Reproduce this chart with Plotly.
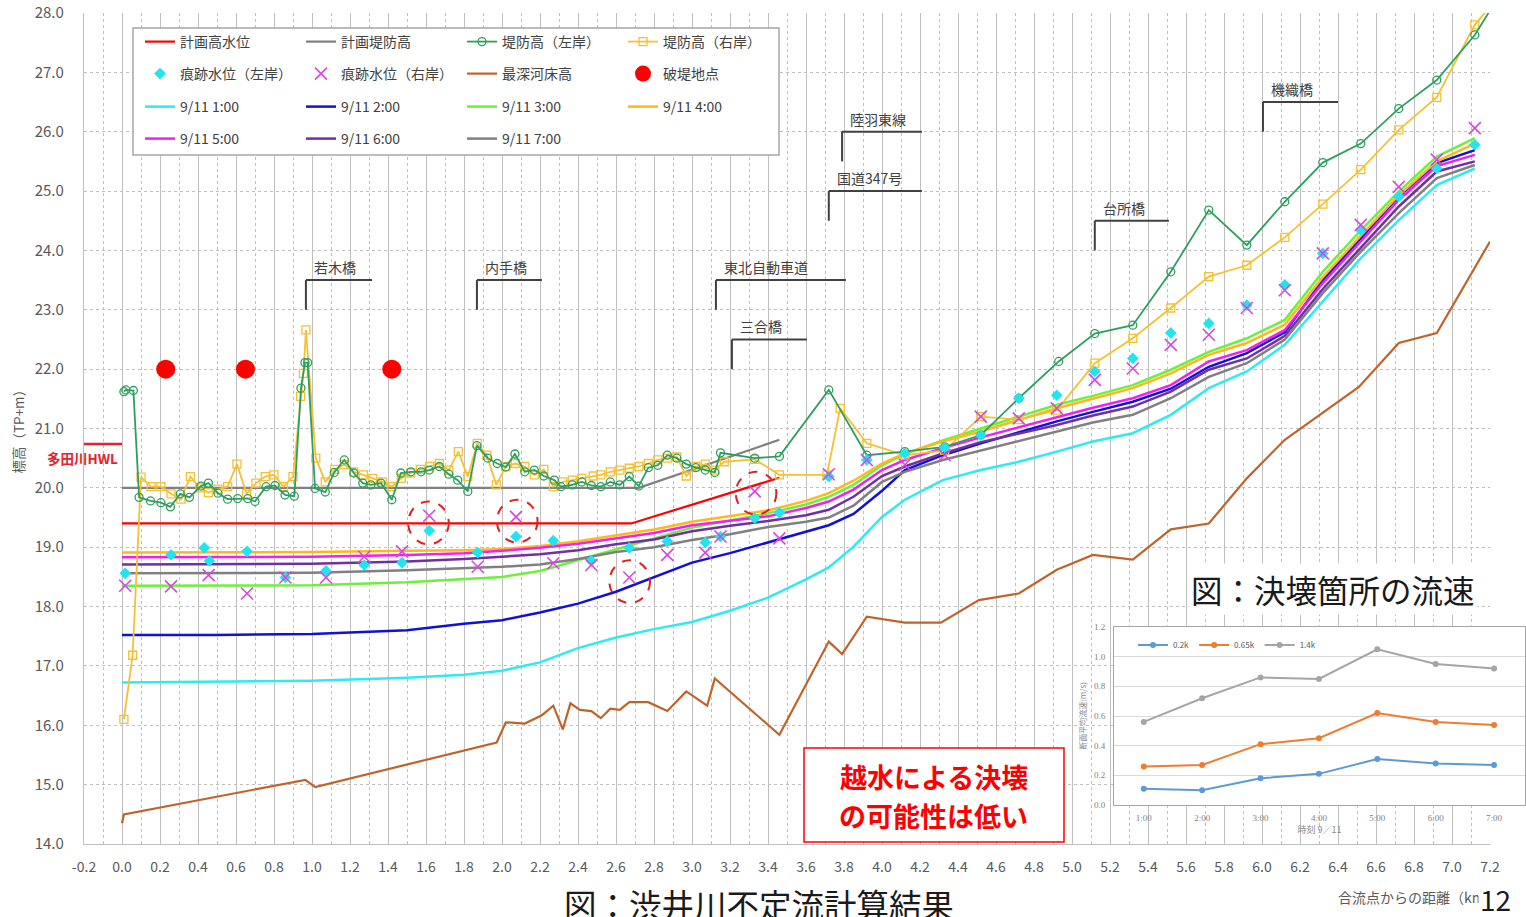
import plotly.graph_objects as go

FONT = "Noto Sans CJK JP"

# ---------------- main chart data ----------------
X_WL = [0.0, 0.5, 1.0, 1.5, 1.8, 2.0, 2.2, 2.4, 2.6, 2.8, 3.0, 3.2, 3.4, 3.6, 3.72, 3.85, 4.0,
        4.12, 4.32, 4.52, 4.72, 4.92, 5.11, 5.32, 5.52, 5.72, 5.92, 6.12, 6.32, 6.52, 6.72, 6.92, 7.12]
WL_0100 = [16.72, 16.73, 16.75, 16.80, 16.85, 16.92, 17.06, 17.30, 17.48, 17.62, 17.74, 17.93, 18.15,
           18.46, 18.66, 19.01, 19.51, 19.80, 20.13, 20.30, 20.44, 20.61, 20.78, 20.92, 21.23, 21.68,
           21.96, 22.41, 23.14, 23.87, 24.51, 25.10, 25.38]
WL_0200 = [17.52, 17.52, 17.54, 17.60, 17.71, 17.77, 17.90, 18.05, 18.25, 18.50, 18.74, 18.90, 19.08,
           19.26, 19.37, 19.56, 19.95, 20.30, 20.55, 20.75, 20.94, 21.12, 21.28, 21.45, 21.67, 22.04,
           22.27, 22.62, 23.50, 24.20, 24.91, 25.47, 25.69]
WL_0300 = [18.35, 18.35, 18.36, 18.41, 18.46, 18.50, 18.60, 18.78, 18.97, 19.15, 19.33, 19.45, 19.57,
           19.72, 19.85, 20.05, 20.38, 20.57, 20.80, 21.00, 21.20, 21.40, 21.55, 21.73, 21.99, 22.29,
           22.52, 22.83, 23.64, 24.34, 24.99, 25.58, 25.89]
WL_0400 = [18.91, 18.91, 18.92, 18.94, 18.95, 18.97, 19.02, 19.10, 19.20, 19.30, 19.43, 19.52, 19.62,
           19.78, 19.91, 20.12, 20.41, 20.58, 20.78, 20.95, 21.14, 21.34, 21.50, 21.68, 21.93, 22.24,
           22.44, 22.75, 23.55, 24.25, 24.93, 25.50, 25.80]
WL_0500 = [18.83, 18.83, 18.84, 18.87, 18.90, 18.94, 18.99, 19.06, 19.15, 19.24, 19.37, 19.45, 19.52,
           19.66, 19.77, 19.97, 20.30, 20.47, 20.67, 20.85, 21.02, 21.20, 21.35, 21.51, 21.73, 22.13,
           22.32, 22.66, 23.45, 24.15, 24.85, 25.42, 25.61]
WL_0600 = [18.71, 18.71, 18.72, 18.76, 18.80, 18.84, 18.88, 18.95, 19.05, 19.13, 19.27, 19.36, 19.44,
           19.54, 19.63, 19.85, 20.20, 20.36, 20.58, 20.77, 20.92, 21.06, 21.22, 21.37, 21.62, 21.99,
           22.18, 22.56, 23.35, 24.05, 24.74, 25.33, 25.50]
WL_0700 = [18.56, 18.56, 18.57, 18.61, 18.64, 18.67, 18.71, 18.80, 18.92, 19.00, 19.12, 19.22, 19.34,
           19.43, 19.50, 19.70, 20.10, 20.27, 20.47, 20.63, 20.78, 20.95, 21.10, 21.23, 21.51, 21.87,
           22.10, 22.50, 23.28, 23.98, 24.63, 25.22, 25.44]
WL_NAMES = ["9/11 1:00", "9/11 2:00", "9/11 3:00", "9/11 4:00", "9/11 5:00", "9/11 6:00", "9/11 7:00"]
WL_COLORS = ["#2EEAF2", "#1010D8", "#6CF03C", "#FFB81C", "#F020F0", "#7030A0", "#808080"]

BED_X = [0.0, 0.01, 0.965, 1.017, 1.972, 2.02, 2.12, 2.21, 2.27, 2.32, 2.36, 2.41, 2.47, 2.52, 2.57,
         2.62, 2.67, 2.77, 2.87, 2.97, 3.08, 3.12, 3.46, 3.72, 3.79, 3.92, 4.12, 4.31, 4.51, 4.72,
         4.92, 5.11, 5.32, 5.52, 5.72, 5.92, 6.12, 6.31, 6.51, 6.72, 6.92, 7.2]
BED_Z = [14.35, 14.50, 15.08, 14.96, 15.71, 16.05, 16.03, 16.17, 16.33, 15.93, 16.37, 16.26, 16.24,
         16.12, 16.28, 16.26, 16.39, 16.39, 16.24, 16.57, 16.33, 16.79, 15.84, 17.41, 17.20, 17.83,
         17.73, 17.73, 18.11, 18.22, 18.62, 18.87, 18.79, 19.30, 19.40, 20.16, 20.81, 21.25, 21.70,
         22.44, 22.61, 24.15]

HWL_X = [0.0, 2.68, 3.46]
HWL_Z = [19.4, 19.4, 20.17]
PLAN_LEVEE_X = [0.0, 2.72, 3.46]
PLAN_LEVEE_Z = [20.0, 20.0, 20.81]

LEVEE_L_X = [0.01, 0.02, 0.06, 0.09, 0.15, 0.205, 0.255, 0.307, 0.355, 0.415,
             0.455, 0.505, 0.556, 0.609, 0.662, 0.70, 0.758, 0.805, 0.858, 0.907,
             0.942, 0.963, 0.977, 1.016, 1.07, 1.117, 1.17, 1.22, 1.267, 1.31,
             1.363, 1.42, 1.468, 1.52, 1.574, 1.617, 1.67, 1.72, 1.767, 1.82,
             1.868, 1.925, 1.975, 2.02, 2.068, 2.12, 2.17, 2.22, 2.275, 2.31,
             2.37, 2.42, 2.47, 2.52, 2.57, 2.62, 2.67, 2.72, 2.77, 2.82,
             2.87, 2.92, 2.97, 3.02, 3.07, 3.12, 3.15, 3.33, 3.46, 3.72,
             3.92, 4.12, 4.33, 4.52, 4.72, 4.93, 5.12, 5.32, 5.52, 5.72,
             5.92, 6.12, 6.32, 6.52, 6.72, 6.92, 7.12, 7.25]
LEVEE_L_Z = [21.62, 21.65, 21.64, 19.84, 19.78, 19.75, 19.68, 19.90, 19.84, 20.03,
             20.08, 19.91, 19.81, 19.82, 19.82, 19.77, 20.02, 20.04, 19.88, 19.86,
             21.68, 22.11, 22.11, 19.99, 19.93, 20.26, 20.47, 20.25, 20.08, 20.05,
             20.08, 19.80, 20.25, 20.27, 20.27, 20.30, 20.36, 20.23, 20.13, 19.94,
             20.71, 20.50, 20.41, 20.35, 20.57, 20.27, 20.30, 20.20, 20.13, 20.02,
             20.05, 20.10, 20.04, 20.02, 20.10, 20.05, 20.19, 20.03, 20.34, 20.38,
             20.55, 20.50, 20.40, 20.34, 20.30, 20.26, 20.59, 20.50, 20.53, 21.65,
             20.55, 20.61, 20.69, 20.89, 21.51, 22.13, 22.60, 22.74, 23.64, 24.68,
             24.09, 24.82, 25.48, 25.80, 26.39, 26.87, 27.63, 28.30]

LEVEE_R_X = [0.01, 0.056, 0.10, 0.153, 0.205, 0.258, 0.31, 0.36, 0.41, 0.455,
             0.505, 0.556, 0.605, 0.656, 0.705, 0.754, 0.80, 0.85, 0.90, 0.94,
             0.955, 0.968, 1.02, 1.07, 1.12, 1.17, 1.22, 1.27, 1.32, 1.37,
             1.42, 1.47, 1.52, 1.57, 1.62, 1.67, 1.72, 1.77, 1.82, 1.87,
             1.92, 1.97, 2.02, 2.07, 2.12, 2.17, 2.22, 2.27, 2.32, 2.37,
             2.42, 2.48, 2.52, 2.57, 2.62, 2.67, 2.72, 2.77, 2.82, 2.87,
             2.92, 2.97, 3.02, 3.07, 3.12, 3.17, 3.33, 3.46, 3.71, 3.78,
             3.92, 4.12, 4.33, 4.52, 4.72, 4.92, 5.12, 5.32, 5.52, 5.72,
             5.92, 6.12, 6.32, 6.52, 6.72, 6.92, 7.12, 7.25]
LEVEE_R_Z = [16.10, 17.18, 20.18, 20.02, 20.02, 19.90, 19.81, 20.19, 20.00, 19.92,
             19.98, 20.02, 20.40, 19.90, 20.08, 20.19, 20.22, 20.02, 20.19, 21.54,
             21.93, 22.66, 20.50, 20.10, 20.31, 20.39, 20.27, 20.22, 20.16, 20.10,
             20.02, 20.16, 20.25, 20.31, 20.36, 20.41, 20.30, 20.61, 20.19, 20.75,
             20.55, 20.05, 20.36, 20.41, 20.36, 20.22, 20.31, 20.02, 20.10, 20.13,
             20.16, 20.20, 20.22, 20.27, 20.30, 20.33, 20.36, 20.41, 20.47, 20.50,
             20.52, 20.20, 20.36, 20.40, 20.30, 20.44, 20.48, 20.22, 20.22, 21.34,
             20.75, 20.55, 20.63, 21.20, 21.15, 21.31, 22.10, 22.52, 23.03, 23.56,
             23.75, 24.22, 24.78, 25.36, 26.03, 26.58, 27.80, 28.30]

TRACE_L_X = [0.017, 0.258, 0.433, 0.46, 0.658, 0.86, 1.074, 1.275, 1.474, 1.617,
             1.872, 2.074, 2.27, 2.47, 2.67, 2.87, 3.07, 3.15, 3.33, 3.46,
             3.72, 3.92, 4.12, 4.33, 4.52, 4.72, 4.92, 5.12, 5.32, 5.52,
             5.72, 5.92, 6.12, 6.32, 6.52, 6.72, 6.92, 7.12]
TRACE_L_Z = [18.56, 18.87, 18.99, 18.77, 18.93, 18.49, 18.60, 18.70, 18.74, 19.28,
             18.91, 19.18, 19.11, 18.77, 18.99, 19.10, 19.08, 19.18, 19.49, 19.58,
             20.19, 20.47, 20.58, 20.68, 20.89, 21.51, 21.56, 21.96, 22.18, 22.61,
             22.77, 23.08, 23.42, 23.95, 24.34, 24.91, 25.38, 25.78]
TRACE_R_X = [0.017, 0.258, 0.456, 0.658, 0.86, 1.074, 1.275, 1.474, 1.617, 1.872,
             2.074, 2.27, 2.47, 2.67, 2.87, 3.07, 3.15, 3.33, 3.46, 3.72,
             3.92, 4.12, 4.33, 4.52, 4.72, 4.92, 5.12, 5.32, 5.52, 5.72,
             5.92, 6.12, 6.32, 6.52, 6.72, 6.92, 7.12]
TRACE_R_Z = [18.35, 18.34, 18.53, 18.22, 18.49, 18.49, 18.84, 18.93, 19.53, 18.67,
             19.51, 18.73, 18.70, 18.49, 18.87, 18.91, 19.18, 19.94, 19.15, 20.23,
             20.47, 20.39, 20.55, 21.20, 21.17, 21.34, 21.82, 22.01, 22.41, 22.58,
             23.03, 23.33, 23.95, 24.43, 25.07, 25.53, 26.06]

BREACH_X = [0.23, 0.65, 1.42]
BREACH_Z = [22.0, 22.0, 22.0]

# highlighted trace marks (dashed circles)
CIRCLE_X = [1.613, 2.08, 2.672, 3.337]
CIRCLE_Z = [19.41, 19.44, 18.42, 19.91]

BRIDGE_NAMES = ["若木橋", "内手橋", "東北自動車道", "三合橋", "国道347号", "陸羽東線", "台所橋", "機織橋"]
BRIDGE_X = [0.968, 1.868, 3.126, 3.21, 3.72, 3.79, 5.12, 6.005]
BRIDGE_X_END = [1.316, 2.21, 3.81, 3.605, 4.21, 4.21, 5.51, 6.40]
BRIDGE_Z = [23.5, 23.5, 23.5, 22.5, 25.0, 26.0, 24.5, 26.5]

TADA_HWL = 20.74

X_TICKS = [round(-0.2 + 0.2 * i, 1) for i in range(38)]
X_TICK_TEXT = ["%.1f" % v for v in X_TICKS]
Y_TICKS = list(range(14, 29))

# ---------------- inset data ----------------
INSET_T = ["1:00", "2:00", "3:00", "4:00", "5:00", "6:00", "7:00"]
V_02K = [0.11, 0.10, 0.18, 0.21, 0.31, 0.28, 0.27]
V_065K = [0.26, 0.27, 0.41, 0.45, 0.62, 0.56, 0.54]
V_14K = [0.56, 0.72, 0.86, 0.85, 1.05, 0.95, 0.92]
INSET_NAMES = ["0.2k", "0.65k", "1.4k"]
INSET_COLORS = ["#5B9BD5", "#ED7D31", "#A5A5A5"]

# ---------------- geometry helpers ----------------
W, H = 1526, 917
ML, MR, MT, MB = 84, 0, 13, 73
PW = W - ML - MR
PH = H - MT - MB


def px(xp):
    return (xp - ML) / PW


def py(yp):
    return (H - MB - yp) / PH


fig = go.Figure()

for i, (name, col, zs) in enumerate(zip(WL_NAMES, WL_COLORS,
                                        [WL_0100, WL_0200, WL_0300, WL_0400, WL_0500, WL_0600, WL_0700])):
    fig.add_trace(go.Scatter(x=X_WL, y=zs, mode="lines", name=name,
                             line=dict(color=col, width=2.5),
                             legend="legend3" if i < 4 else "legend4",
                             legendrank=i + 1))

fig.add_trace(go.Scatter(x=BED_X, y=BED_Z, mode="lines", name="最深河床高",
                         line=dict(color="#C0632B", width=2.2), legend="legend2", legendrank=3))
fig.add_trace(go.Scatter(x=HWL_X, y=HWL_Z, mode="lines", name="計画高水位",
                         line=dict(color="#FF0000", width=2.2), legend="legend", legendrank=1))
fig.add_trace(go.Scatter(x=PLAN_LEVEE_X, y=PLAN_LEVEE_Z, mode="lines", name="計画堤防高",
                         line=dict(color="#808080", width=2.2), legend="legend", legendrank=2))
fig.add_trace(go.Scatter(x=LEVEE_R_X, y=LEVEE_R_Z, mode="lines+markers", name="堤防高（右岸）",
                         line=dict(color="#F5C033", width=1.8),
                         marker=dict(symbol="square-open", size=8, color="#F5C033", line=dict(width=1.3)),
                         legend="legend", legendrank=4))
fig.add_trace(go.Scatter(x=LEVEE_L_X, y=LEVEE_L_Z, mode="lines+markers", name="堤防高（左岸）",
                         line=dict(color="#2E9E5E", width=1.8),
                         marker=dict(symbol="circle-open", size=8, color="#2E9E5E", line=dict(width=1.3)),
                         legend="legend", legendrank=3))
fig.add_trace(go.Scatter(x=TRACE_L_X, y=TRACE_L_Z, mode="markers", name="痕跡水位（左岸）",
                         marker=dict(symbol="diamond", size=9, color="#22E4EE"),
                         legend="legend2", legendrank=1))
fig.add_trace(go.Scatter(x=TRACE_R_X, y=TRACE_R_Z, mode="markers", name="痕跡水位（右岸）",
                         marker=dict(symbol="x-thin", size=12, color="#D648E0",
                                     line=dict(color="#D648E0", width=1.6)),
                         legend="legend2", legendrank=2))
fig.add_trace(go.Scatter(x=BREACH_X, y=BREACH_Z, mode="markers", name="破堤地点",
                         marker=dict(symbol="circle", size=19, color="#FF0000"),
                         legend="legend2", legendrank=4))

for name, col, vs in zip(INSET_NAMES, INSET_COLORS, [V_02K, V_065K, V_14K]):
    fig.add_trace(go.Scatter(x=INSET_T, y=vs, mode="lines+markers", name=name,
                             xaxis="x3", yaxis="y3",
                             line=dict(color=col, width=2), marker=dict(size=6, color=col),
                             legend="legend5"))

# ---------------- shapes ----------------
shapes = []
for bx, bxe, bz in zip(BRIDGE_X, BRIDGE_X_END, BRIDGE_Z):
    shapes.append(dict(type="line", xref="x", yref="y", x0=bx, x1=bx, y0=bz, y1=bz - 0.5,
                       line=dict(color="#404040", width=2)))
    shapes.append(dict(type="line", xref="x", yref="y", x0=bx, x1=bxe, y0=bz, y1=bz,
                       line=dict(color="#404040", width=2)))
shapes.append(dict(type="line", xref="x", yref="y", x0=-0.2, x1=0.0, y0=TADA_HWL, y1=TADA_HWL,
                   line=dict(color="#E8202A", width=2.5)))
for cx, cz in zip(CIRCLE_X, CIRCLE_Z):
    shapes.append(dict(type="circle", xref="x", yref="y", x0=cx - 0.107, x1=cx + 0.107,
                       y0=cz - 0.36, y1=cz + 0.36,
                       line=dict(color="#E02020", width=2, dash="dash")))
shapes.append(dict(type="rect", xref="paper", yref="paper", layer="above",
                   x0=px(133), x1=px(779), y0=py(155), y1=py(28),
                   fillcolor="white", line=dict(color="#A6A6A6", width=1.5)))
shapes.append(dict(type="rect", xref="paper", yref="paper", layer="above",
                   x0=px(804), x1=px(1064), y0=py(842), y1=py(748),
                   fillcolor="white", line=dict(color="#FF0000", width=1.5)))

# ---------------- annotations ----------------
ann = []
for name, bx, bz in zip(BRIDGE_NAMES, BRIDGE_X, BRIDGE_Z):
    ann.append(dict(text=name, x=bx + 0.03, y=bz + 0.22, xref="x", yref="y",
                    xanchor="left", yanchor="middle", showarrow=False,
                    font=dict(family=FONT, size=14, color="#404040")))
ann.append(dict(text="<b>多田川HWL</b>", x=px(82), y=py(458), xref="paper", yref="paper",
                xanchor="center", yanchor="middle", showarrow=False,
                font=dict(family=FONT, size=13.5, color="#E8202A")))
ann.append(dict(text="<b>越水による決壊</b>", x=px(934), y=py(776), xref="paper", yref="paper",
                xanchor="center", yanchor="middle", showarrow=False,
                font=dict(family=FONT, size=27, color="#FF0000")))
ann.append(dict(text="<b>の可能性は低い</b>", x=px(934), y=py(815), xref="paper", yref="paper",
                xanchor="center", yanchor="middle", showarrow=False,
                font=dict(family=FONT, size=27, color="#FF0000")))
ann.append(dict(text="図：決壊箇所の流速", x=px(1333), y=py(589), xref="paper", yref="paper",
                xanchor="center", yanchor="middle", showarrow=False, bgcolor="white", borderpad=2,
                font=dict(family=FONT, size=31.5, color="#1A1A1A")))
ann.append(dict(text="図：渋井川不定流計算結果", x=px(759), y=py(904), xref="paper", yref="paper",
                xanchor="center", yanchor="middle", showarrow=False,
                font=dict(family=FONT, size=32.5, color="#1A1A1A")))
ann.append(dict(text="合流点からの距離（km）", x=px(1336), y=py(897), xref="paper", yref="paper",
                xanchor="left", yanchor="middle", showarrow=False,
                font=dict(family=FONT, size=14, color="#595959")))
ann.append(dict(text="12", x=px(1495), y=py(899), xref="paper", yref="paper",
                xanchor="center", yanchor="middle", showarrow=False, bgcolor="white",
                font=dict(family=FONT, size=28, color="#1A1A1A")))
ann.append(dict(text="標高（TP+m）", x=px(17), y=0.5, xref="paper", yref="paper", textangle=-90,
                xanchor="center", yanchor="middle", showarrow=False,
                font=dict(family=FONT, size=13.5, color="#595959")))


def leg(ypix):
    return dict(orientation="h", x=px(140), y=py(ypix), xref="paper", yref="paper",
                xanchor="left", yanchor="middle", bgcolor="rgba(0,0,0,0)", borderwidth=0,
                font=dict(family=FONT, size=14, color="#404040"),
                entrywidth=116, entrywidthmode="pixels", itemwidth=30, traceorder="normal")


grid_c = "#BFBFBF"
fig.update_layout(
    width=W, height=H, autosize=False,
    margin=dict(l=ML, r=MR, t=MT, b=MB, pad=0, autoexpand=False),
    paper_bgcolor="white", plot_bgcolor="white",
    font=dict(family=FONT, color="#595959"),
    showlegend=True,
    hovermode=False,
    legend=leg(42), legend2=leg(74), legend3=leg(107), legend4=leg(139),
    legend5=dict(orientation="h", x=px(1133), y=py(645), xanchor="left", yanchor="middle",
                 bgcolor="rgba(0,0,0,0)", font=dict(family=FONT, size=8, color="#595959"),
                 itemwidth=30),
    xaxis=dict(domain=[0, (1490 - ML) / PW], range=[-0.2, 7.2], tickvals=X_TICKS, ticktext=X_TICK_TEXT,
               showgrid=True, gridcolor=grid_c, gridwidth=1.4, zeroline=False,
               showline=True, linecolor=grid_c, linewidth=1.4, ticks="", ticklabelstandoff=10,
               tickfont=dict(family=FONT, size=14, color="#595959"),
               minor=dict(dtick=0.1, tick0=0.1, showgrid=True, gridcolor=grid_c, griddash="dot", gridwidth=1),
               anchor="y", fixedrange=True),
    yaxis=dict(domain=[0, 1], range=[14, 28], tickvals=Y_TICKS, tickformat=".1f",
               showgrid=True, gridcolor=grid_c, griddash="dot", gridwidth=1.3, zeroline=False,
               showline=True, linecolor=grid_c, linewidth=1.4, ticks="", ticklabelstandoff=16,
               tickfont=dict(family=FONT, size=15, color="#595959"), anchor="x", fixedrange=True),
    xaxis2=dict(domain=[px(1064), 1.0], range=[0, 1], anchor="y2", showgrid=False, zeroline=False,
                showticklabels=False, ticks="", showline=True, mirror=True, linecolor="#D9D9D9",
                fixedrange=True),
    yaxis2=dict(domain=[py(843), py(588)], range=[0, 1], anchor="x2", showgrid=False, zeroline=False,
                showticklabels=False, ticks="", showline=True, mirror=True, linecolor="#D9D9D9",
                fixedrange=True),
    xaxis3=dict(domain=[px(1114), px(1525)], type="category", range=[-0.51, 6.53], anchor="y3",
                showgrid=False, zeroline=False, showline=True, mirror=True, linecolor="#A6A6A6",
                ticks="", ticklabelstandoff=4,
                tickfont=dict(family="Liberation Serif", size=9, color="#7F7F7F"),
                title=dict(text="時刻 9／11", font=dict(family=FONT, size=9, color="#8C8C8C"), standoff=2),
                fixedrange=True),
    yaxis3=dict(domain=[py(805), py(627)], range=[0, 1.2], dtick=0.2, tickformat=".1f", anchor="x3",
                showgrid=True, gridcolor="#D9D9D9", zeroline=False, showline=True, mirror=True,
                linecolor="#A6A6A6", ticks="", ticklabelstandoff=6,
                tickfont=dict(family="Liberation Serif", size=9, color="#7F7F7F"),
                title=dict(text="断面平均流速(m/s)", font=dict(family=FONT, size=8, color="#8C8C8C"), standoff=6),
                fixedrange=True),
    shapes=shapes,
    annotations=ann,
)

fig.write_html(
    "out.html",
    config={"responsive": False},
    post_script="document.documentElement.style.overflow='hidden';document.body.style.margin='0';document.body.style.overflow='hidden';",
)
